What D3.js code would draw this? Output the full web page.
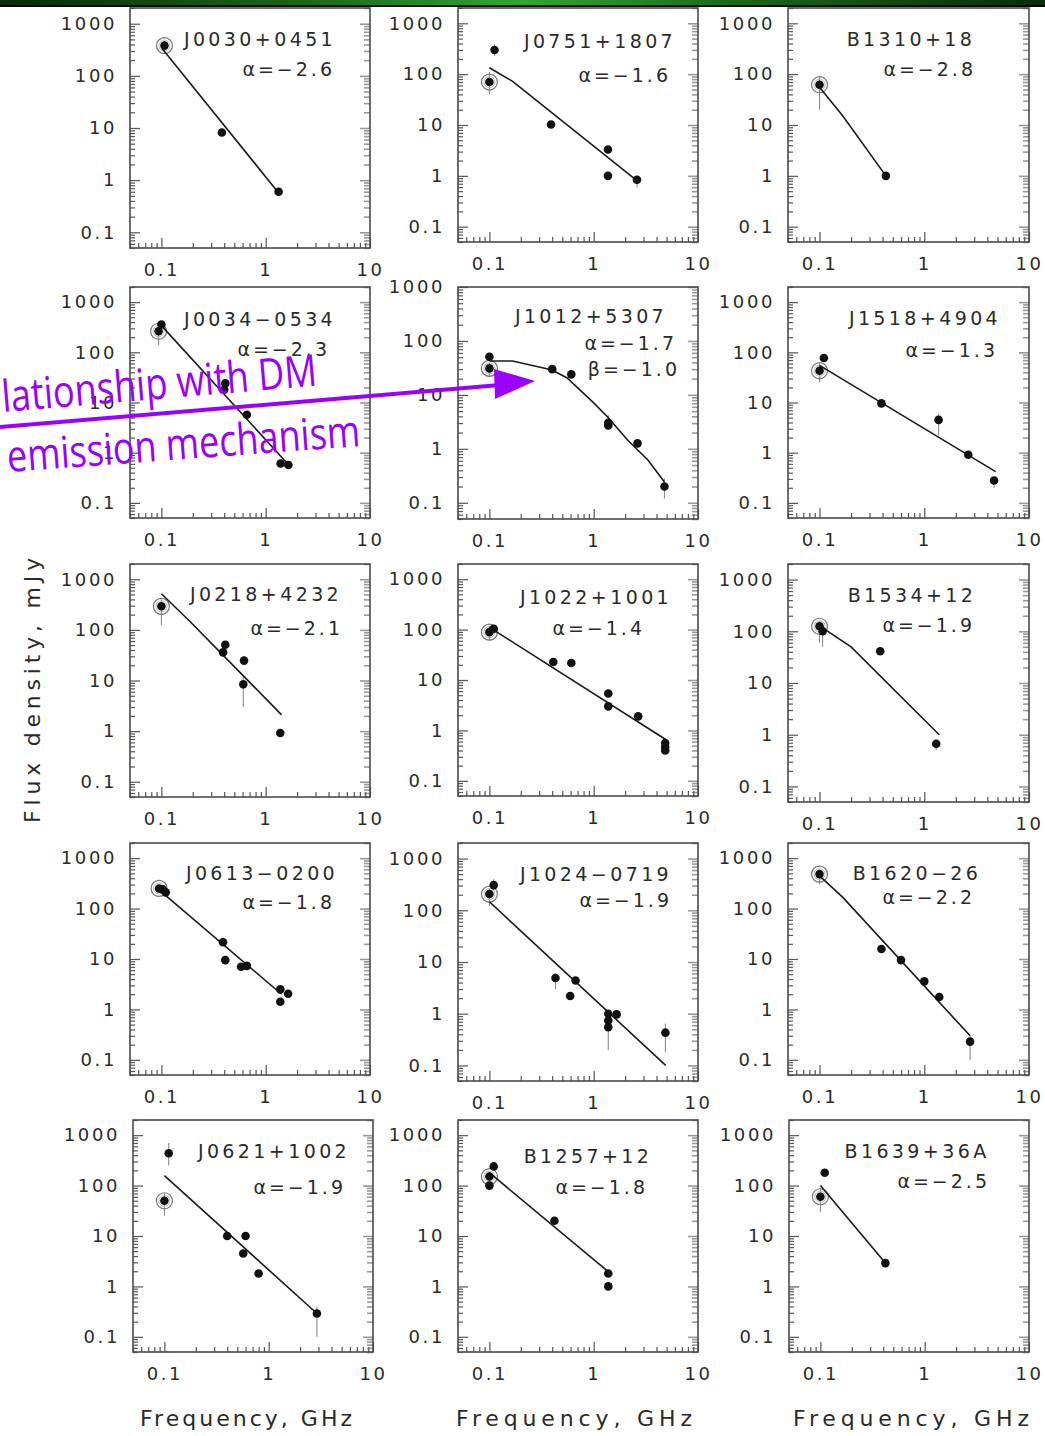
<!DOCTYPE html>
<html><head><meta charset="utf-8">
<script src="https://cdn.jsdelivr.net/npm/d3@7"></script>
<style>
html,body{margin:0;padding:0;background:#fff;}
svg{display:block;}
</style></head><body>
<script>
// ---------------- DATA ----------------
const pulsarNames = ["J0030+0451","J0751+1807","B1310+18",
                     "J0034\u22120534","J1012+5307","J1518+4904",
                     "J0218+4232","J1022+1001","B1534+12",
                     "J0613\u22120200","J1024\u22120719","B1620\u221226",
                     "J0621+1002","B1257+12","B1639+36A"];
const alphaLabels = ["\u22122.6","\u22121.6","\u22122.8",
                     "\u22122.3","\u22121.7","\u22121.3",
                     "\u22122.1","\u22121.4","\u22121.9",
                     "\u22121.8","\u22121.9","\u22122.2",
                     "\u22121.9","\u22121.8","\u22122.5"];
const betaLabels  = [null,null,null, null,"\u22121.0",null, null,null,null, null,null,null, null,null,null];
const yTopValues  = [2000,2000,2000, 2000,1000,2000, 2000,2000,2000, 2000,2000,2000, 2000,2000,2000];

const xTickValues = [0.1, 1, 10];
const xTickLabels = ["0.1", "1", "10"];
const yTickValues = [0.1, 1, 10, 100, 1000];
const yTickLabels = ["0.1", "1", "10", "100", "1000"];
const xDomain = [0.05, 10];
const yBottom = 0.05;

// measured points: [GHz, mJy, errLow, errHigh, circled]
const obs01 = [[0.107,380,290,470,1],[0.38,8.2],[1.33,0.6]];
const fit01 = [[0.102,330],[1.33,0.57]];
const obs02 = [[0.112,298,230,380],[0.1,70,40,110,1],[0.39,10.2],[1.37,3.3],[1.37,1.0],[2.6,0.84,0.6,1.0]];
const fit02 = [[0.1,134],[0.167,72],[2.65,0.78]];
const obs03 = [[0.1,62,20,90,1],[0.43,1.0]];
const fit03 = [[0.1,55],[0.167,15],[0.43,1.0]];
const obs04 = [[0.1,357],[0.094,263,140,320,1],[0.41,24],[0.4,18],[0.66,5.7],[1.39,0.61],[1.65,0.57]];
const fit04 = [[0.1,340],[1.73,0.52]];
const obs05 = [[0.1,51],[0.1,31,22,40,1],[0.4,30],[0.61,24],[1.38,3.05,2.2,4.2],[1.38,2.7],[2.63,1.26],[4.77,0.2,0.12,0.28]];
const fit05 = [[0.1,42.5],[0.167,42.5],[0.4,29],[0.556,20.6],[1.0,7.1],[1.36,3.9],[2.11,1.46],[3.31,0.62],[4.75,0.245]];
const obs06 = [[0.11,77],[0.1,43,25,60,1],[0.39,9.6],[1.37,4.5,2.2,6.0],[2.63,0.91],[4.64,0.28,0.2,0.33]];
const fit06 = [[0.1,55],[4.8,0.42]];
const obs07 = [[0.1,292,125,400,1],[0.41,51],[0.39,36],[0.62,24.7],[0.61,8.4,3,12],[1.38,0.92]];
const fit07 = [[0.1,516],[0.188,146],[1.42,2.1]];
const obs08 = [[0.1,89,60,120,1],[0.11,104],[0.41,22.8],[0.61,21.8],[1.38,5.4],[1.38,3.0],[2.67,1.9],[4.85,0.56],[4.85,0.47],[4.85,0.40]];
const fit08 = [[0.1,111],[4.9,0.66]];
const obs09 = [[0.1,125,60,160,1],[0.107,100,50,130],[0.38,41],[1.3,0.67,0.5,0.8]];
const fit09 = [[0.107,116],[0.2,50],[1.39,1.0]];
const obs10 = [[0.095,251,200,300,1],[0.103,240],[0.11,210],[0.39,21.5],[0.41,9.5],[0.58,7.0],[0.66,7.3],[1.38,2.5],[1.38,1.42],[1.64,2.05]];
const fit10 = [[0.1,215],[1.42,2.0]];
const obs11 = [[0.11,307,230,400],[0.1,206,120,260,1],[0.43,4.9,3,6],[0.595,2.2],[0.67,4.4],[1.38,1.0,0.2,1.2],[1.38,0.74],[1.38,0.55],[1.66,0.97],[4.87,0.43,0.18,0.65]];
const fit11 = [[0.1,146],[4.9,0.1]];
const obs12 = [[0.1,483,300,560,1],[0.39,15.8],[0.6,9.5],[1.0,3.6],[1.39,1.76],[2.74,0.23,0.1,0.3]];
const fit12 = [[0.1,447],[0.166,169],[2.74,0.3]];
const obs13 = [[0.11,437,250,700],[0.1,50,25,70,1],[0.4,10],[0.6,10],[0.57,4.5],[0.8,1.8],[2.9,0.29,0.1,0.4]];
const fit13 = [[0.1,158],[2.9,0.29]];
const obs14 = [[0.1,151,110,190,1],[0.11,240],[0.1,100],[0.42,20],[1.38,1.8],[1.38,1.0]];
const fit14 = [[0.1,180],[1.45,1.8]];
const obs15 = [[0.1,60,30,90,1],[0.11,180],[0.42,2.9]];
const fit15 = [[0.1,100],[0.42,2.9]];

const observations = [obs01,obs02,obs03,obs04,obs05,obs06,obs07,obs08,obs09,obs10,obs11,obs12,obs13,obs14,obs15];
const fits = [fit01,fit02,fit03,fit04,fit05,fit06,fit07,fit08,fit09,fit10,fit11,fit12,fit13,fit14,fit15];

// ---------------- LAYOUT ----------------
const layout = [
 {x0:130,x1:370,y0:8,  y1:248, nx:260,ny:39,  ax:335,ay:69},
 {x0:458,x1:698,y0:8,  y1:242, nx:600,ny:41,  ax:671,ay:75},
 {x0:788,x1:1029,y0:8, y1:242, nx:911,ny:39,  ax:976,ay:69},
 {x0:130,x1:370,y0:287,y1:518, nx:260,ny:319, ax:330,ay:349},
 {x0:458,x1:698,y0:287,y1:519, nx:591,ny:316, ax:677,ay:343, bx:680,by:369},
 {x0:788,x1:1029,y0:287,y1:518,nx:925,ny:318, ax:998,ay:350},
 {x0:130,x1:370,y0:564,y1:797, nx:266,ny:594, ax:343,ay:628},
 {x0:458,x1:698,y0:564,y1:796, nx:596,ny:597, ax:645,ay:628},
 {x0:788,x1:1029,y0:564,y1:802,nx:912,ny:595, ax:975,ay:625},
 {x0:130,x1:370,y0:843,y1:1075,nx:262,ny:873, ax:335,ay:902},
 {x0:458,x1:698,y0:843,y1:1081,nx:596,ny:874, ax:672,ay:900},
 {x0:788,x1:1029,y0:843,y1:1075,nx:917,ny:873,ax:975,ay:897},
 {x0:133,x1:373,y0:1120,y1:1352,nx:274,ny:1151,ax:346,ay:1187},
 {x0:458,x1:698,y0:1120,y1:1352,nx:588,ny:1156,ax:648,ay:1187},
 {x0:789,x1:1029,y0:1120,y1:1352,nx:917,ny:1151,ax:990,ay:1181}
];
const freqTitleX = [246, 574, 911];
const freqTitleW = [212, 236, 236];

const W = 1045, H = 1436;
const FONT = "'DejaVu Sans', sans-serif";
const svg = d3.select("body").append("svg").attr("width", W).attr("height", H)
  .attr("font-family", FONT);

// top green strip
const defs = svg.append("defs");
const grad = defs.append("linearGradient").attr("id","greenStrip");
[[0,"#0a2a0a"],[0.3,"#1b6a1b"],[0.5,"#2fa82f"],[0.7,"#1b6a1b"],[1,"#0a2a0a"]]
  .forEach(([o,c]) => grad.append("stop").attr("offset",o).attr("stop-color",c));
svg.append("rect").attr("x",0).attr("y",0).attr("width",W).attr("height",6).attr("fill","url(#greenStrip)");
svg.append("rect").attr("x",0).attr("y",5).attr("width",W).attr("height",2).attr("fill","#050805");

const isMajor = t => Math.abs(Math.log10(t) - Math.round(Math.log10(t))) < 1e-6;

layout.forEach((L, i) => {
  const x = d3.scaleLog().domain(xDomain).range([L.x0, L.x1]);
  const y = d3.scaleLog().domain([yBottom, yTopValues[i]]).range([L.y1, L.y0]);
  const g = svg.append("g");

  const yAll = y.ticks().filter(t => t >= yBottom && t <= yTopValues[i]);
  const yMinor = yAll.filter(t => !isMajor(t));
  const xAll = x.ticks();
  const xMinor = xAll.filter(t => !isMajor(t));

  g.append("g").attr("transform",`translate(${L.x0},0)`)
    .call(d3.axisLeft(y).tickValues(yMinor).tickSize(-5).tickFormat(""))
    .call(a => a.select(".domain").remove());
  g.append("g").attr("class","ylab").attr("transform",`translate(${L.x0},0)`)
    .call(d3.axisLeft(y).tickValues(yTickValues).tickSize(-10).tickPadding(13)
      .tickFormat((d,k) => yTickLabels[k]))
    .call(a => a.select(".domain").remove());
  g.append("g").attr("class","rt").attr("transform",`translate(${L.x1},0)`)
    .call(d3.axisRight(y).tickValues(yMinor).tickSize(-6).tickFormat(""))
    .call(a => a.select(".domain").remove());
  g.append("g").attr("class","rt").attr("transform",`translate(${L.x1},0)`)
    .call(d3.axisRight(y).tickValues(yTickValues).tickSize(-10).tickFormat(""))
    .call(a => a.select(".domain").remove());
  g.append("g").attr("transform",`translate(0,${L.y1})`)
    .call(d3.axisBottom(x).tickValues(xMinor).tickSize(-5).tickFormat(""))
    .call(a => a.select(".domain").remove());
  g.append("g").attr("class","xlab").attr("transform",`translate(0,${L.y1})`)
    .call(d3.axisBottom(x).tickValues(xTickValues).tickSize(-10).tickPadding(15)
      .tickFormat((d,k) => xTickLabels[k]))
    .call(a => a.select(".domain").remove());

  g.selectAll(".tick line").attr("stroke","#555").attr("stroke-width",1.2);
  g.selectAll(".rt .tick line").attr("stroke","#999").attr("stroke-width",1.6);
  g.selectAll(".tick text").attr("font-family",FONT).attr("font-size",18)
    .attr("fill","#2a2a2a").attr("letter-spacing",2.6);

  g.append("rect").attr("x",L.x0).attr("y",L.y0).attr("width",L.x1-L.x0).attr("height",L.y1-L.y0)
    .attr("fill","none").attr("stroke","#4a4a4a").attr("stroke-width",1.6);

  const pts = observations[i];
  g.selectAll(".err").data(pts.filter(p => p[2] != null)).join("line")
    .attr("x1", p => x(p[0])).attr("x2", p => x(p[0]))
    .attr("y1", p => y(p[2])).attr("y2", p => y(p[3]))
    .attr("stroke","#8a8a8a").attr("stroke-width",1.1);
  g.selectAll(".ring").data(pts.filter(p => p[4])).join("circle")
    .attr("cx", p => x(p[0])).attr("cy", p => y(p[1])).attr("r",8)
    .attr("fill","none").attr("stroke","#777").attr("stroke-width",1.2);
  g.selectAll(".ring2").data(pts.filter(p => p[4])).join("circle")
    .attr("cx", p => x(p[0])).attr("cy", p => y(p[1])).attr("r",5.5)
    .attr("fill","none").attr("stroke","#bbb").attr("stroke-width",1);
  g.append("path").datum(fits[i])
    .attr("d", d3.line().x(d => x(d[0])).y(d => y(d[1])))
    .attr("fill","none").attr("stroke","#1a1a1a").attr("stroke-width",1.6);
  g.selectAll(".dot").data(pts).join("circle")
    .attr("cx", p => x(p[0])).attr("cy", p => y(p[1])).attr("r",4.3).attr("fill","#111");

  g.append("text").attr("x",L.nx).attr("y",L.ny).attr("dy","0.36em").attr("text-anchor","middle")
    .attr("font-size",19).attr("letter-spacing",3.4).attr("fill","#2a2a2a").text(pulsarNames[i]);
  g.append("text").attr("x",L.ax).attr("y",L.ay).attr("dy","0.36em").attr("text-anchor","end")
    .attr("font-size",19).attr("letter-spacing",3).attr("fill","#2a2a2a").text("\u03b1=" + alphaLabels[i]);
  if (betaLabels[i]) {
    g.append("text").attr("x",L.bx).attr("y",L.by).attr("dy","0.36em").attr("text-anchor","end")
      .attr("font-size",19).attr("letter-spacing",3).attr("fill","#2a2a2a").text("\u03b2=" + betaLabels[i]);
  }
});

// axis titles
svg.append("text").attr("transform","translate(32,688) rotate(-90)").attr("text-anchor","middle")
  .attr("dy","0.36em").attr("font-size",22).attr("letter-spacing",4.8).attr("fill","#2a2a2a")
  .text("Flux density, mJy");
freqTitleX.forEach((cx, k) => {
  svg.append("text").attr("x",cx - freqTitleW[k]/2).attr("y",1418).attr("dy","0.36em")
    .attr("font-size",22).attr("fill","#2a2a2a")
    .attr("textLength",freqTitleW[k]).attr("lengthAdjust","spacing").text("Frequency, GHz");
});

// purple annotation overlay
const PURPLE = "#9a00ff";
svg.append("line").attr("x1",0).attr("y1",427).attr("x2",500).attr("y2",385)
  .attr("stroke",PURPLE).attr("stroke-width",4);
svg.append("polygon").attr("points","494,369 535,381 495,399").attr("fill",PURPLE);
svg.append("text").attr("transform","translate(3,412) rotate(-4.8)")
  .attr("font-family","'Open Sans', sans-serif").attr("font-size",44).attr("fill",PURPLE)
  .attr("textLength",316).attr("lengthAdjust","spacingAndGlyphs").text("lationship with DM");
svg.append("text").attr("transform","translate(8,472) rotate(-4.2)")
  .attr("font-family","'Open Sans', sans-serif").attr("font-size",44).attr("fill",PURPLE)
  .attr("textLength",354).attr("lengthAdjust","spacingAndGlyphs").text("emission mechanism");
</script>
</body></html>
